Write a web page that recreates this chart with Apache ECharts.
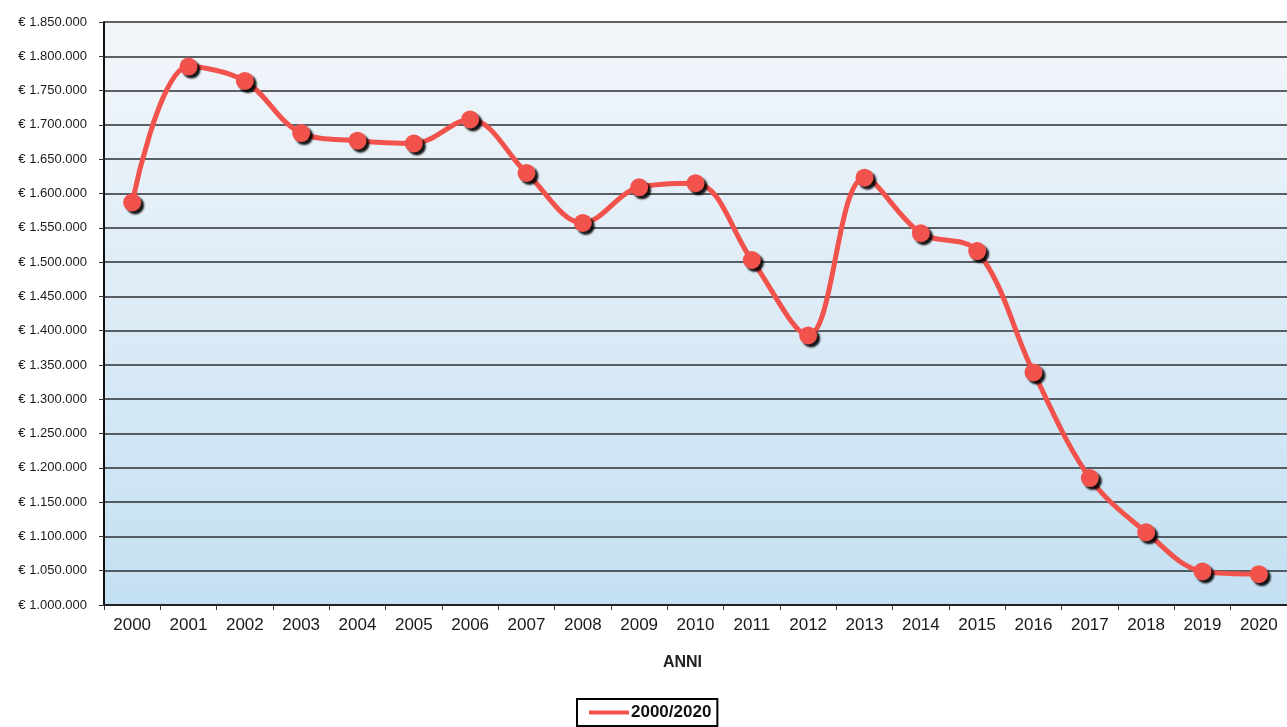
<!DOCTYPE html>
<html>
<head>
<meta charset="utf-8">
<script src="https://cdn.jsdelivr.net/npm/echarts@6/dist/echarts.min.js"></script>
<style>html,body{margin:0;padding:0;background:#fff;}#c{width:1287px;height:727px;}</style>
</head>
<body>
<div id="c"></div>
<script>
const years = ['2000','2001','2002','2003','2004','2005','2006','2007','2008','2009','2010','2011','2012','2013','2014','2015','2016','2017','2018','2019','2020'];
const values = [1587000,1785000,1764000,1688000,1677000,1673000,1708000,1630000,1557000,1609000,1615000,1503000,1393000,1623000,1542000,1516000,1339000,1185000,1106000,1049000,1045000];
const seriesName = '2000/2020';
const xAxisName = 'ANNI';
const yMin = 1000000, yMax = 1850000, yStep = 50000;

function fmt(v){
  return '€ ' + String(Math.round(v)).replace(/\B(?=(\d{3})+(?!\d))/g, '.');
}

const chart = echarts.init(document.getElementById('c'), null, {renderer:'canvas'});
chart.setOption({
  animation:false,
  backgroundColor:'#ffffff',
  grid:{
    left:104, right:-4, top:22, bottom:122,
    show:true, borderWidth:0,
    backgroundColor:{type:'linear',x:0,y:0,x2:0,y2:1,colorStops:[
      {offset:0,color:'#f2f6fa'},{offset:0.5,color:'#dcebf6'},{offset:1,color:'#c3e0f2'}]}
  },
  legend:{
    data:[seriesName], left:577, top:699,
    borderColor:'#000', borderWidth:2, padding:[5,6,5,12],
    itemWidth:40, itemHeight:14, itemGap:4,
    icon:'path://M0,5 L40,5 L40,9 L0,9 Z',
    textStyle:{fontFamily:'Liberation Sans, Arial', fontWeight:'bold', fontSize:17, color:'#111', padding:[0,0,0,-3]}
  },
  xAxis:{
    type:'category', data:years, boundaryGap:true,
    name:xAxisName, nameLocation:'middle', nameGap:50,
    nameTextStyle:{fontFamily:'Liberation Sans, Arial', fontWeight:'bold', fontSize:16, color:'#222', padding:[0,26,0,0]},
    axisLine:{lineStyle:{color:'#222', width:2}},
    axisTick:{show:true, alignWithLabel:false, length:5, lineStyle:{color:'#333'}},
    axisLabel:{margin:12, fontFamily:'Liberation Sans, Arial', fontSize:17, color:'#1a1a1a'}
  },
  yAxis:{
    type:'value', min:yMin, max:yMax, interval:yStep,
    axisLine:{show:true, lineStyle:{color:'#111', width:2}},
    axisTick:{show:true, length:5, lineStyle:{color:'#333'}},
    axisLabel:{formatter:fmt, margin:17, fontFamily:'Liberation Sans, Arial', fontSize:13, color:'#1a1a1a'},
    splitLine:{show:true, lineStyle:{color:'#2b2f33', width:1.6}}
  },
  series:[{
    name:seriesName, type:'line', data:values, smooth:0.35,
    symbol:'circle', symbolSize:18,
    lineStyle:{color:'#f2524c', width:5},
    itemStyle:{color:'#f2524c', shadowColor:'rgba(0,0,0,0.9)', shadowBlur:2, shadowOffsetX:3, shadowOffsetY:3},
    z:3
  }]
});
</script>
</body>
</html>
